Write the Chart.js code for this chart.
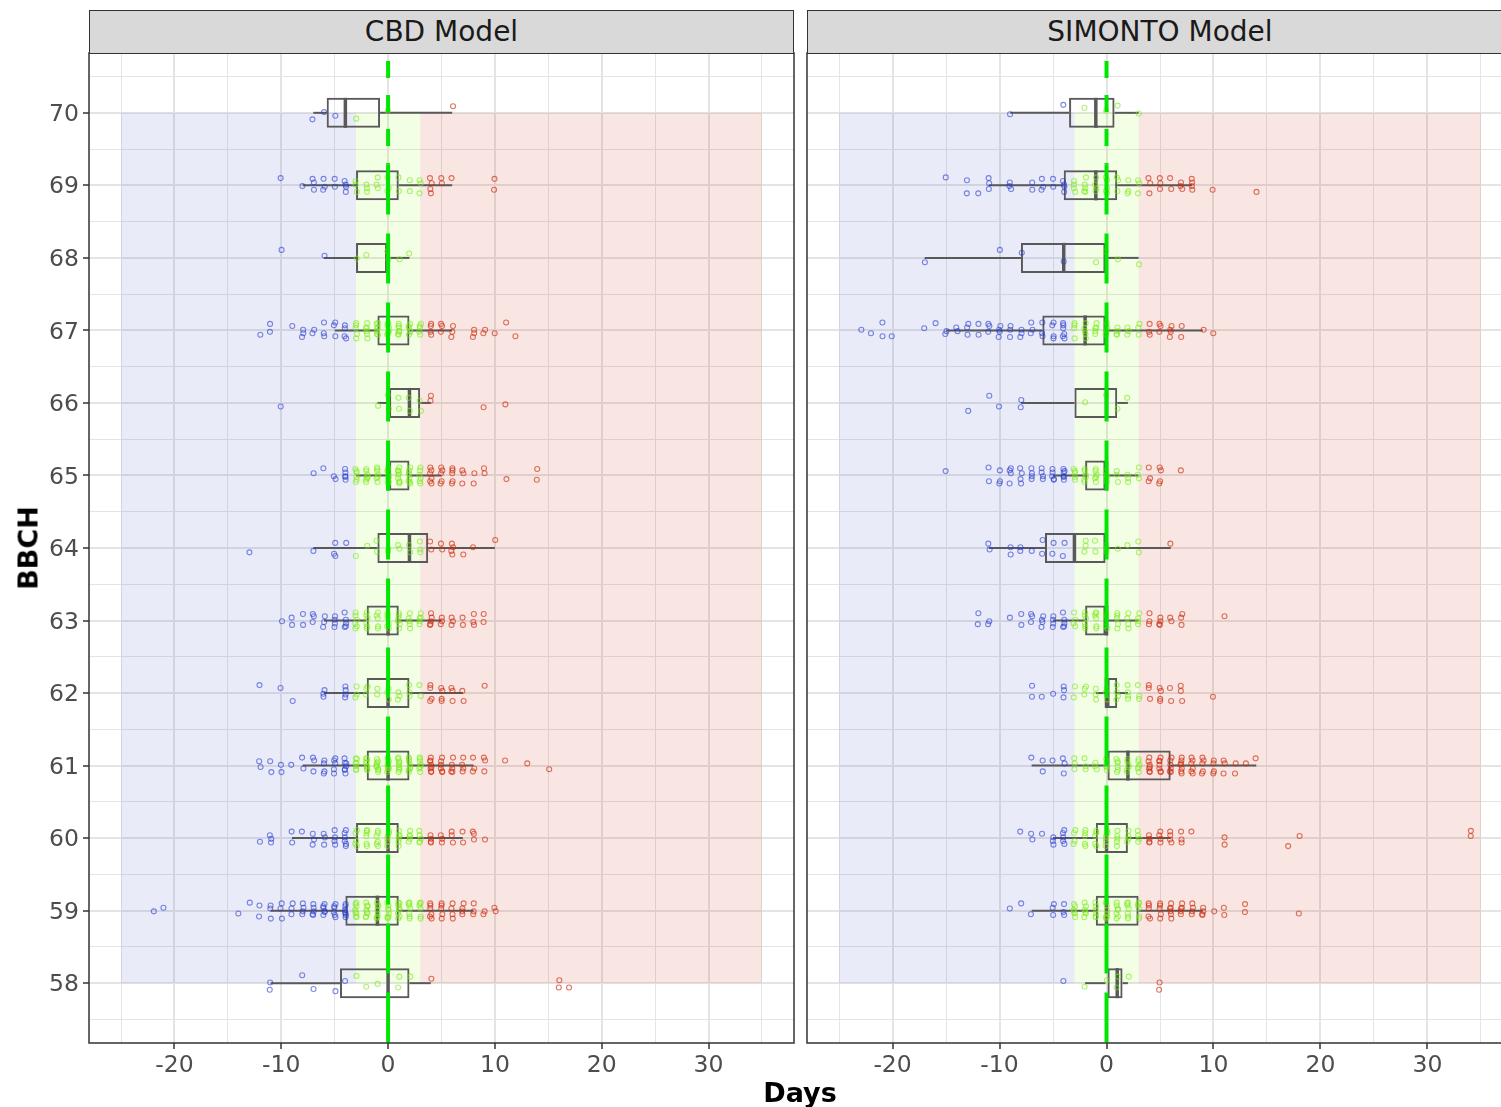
<!DOCTYPE html>
<html>
<head>
<meta charset="utf-8">
<title>BBCH timing: CBD vs SIMONTO</title>
<script src="https://cdn.jsdelivr.net/npm/chart.js@4.4.0/dist/chart.umd.min.js"></script>
<style>
  html, body { margin: 0; padding: 0; width: 1501px; height: 1107px; overflow: hidden; background: #fff; }
  body { position: relative; font-family: "DejaVu Sans", sans-serif; }
  .wrap { position: absolute; top: 0; height: 1107px; }
  #wrapL { left: 0; width: 800px; }
  #wrapR { left: 800px; width: 720px; }
  .strip { position: absolute; top: 10px; height: 44px; box-sizing: border-box; background: #d9d9d9;
           border: 1.5px solid #333; color: #1a1a1a; font-size: 28px; line-height: 41px; text-align: center; }
  .title { position: absolute; font-weight: bold; font-size: 27px; color: #000; white-space: nowrap;
           transform: translate(-50%, -50%); }
  #ytitle { left: 28px; top: 548px; transform: translate(-50%, -50%) rotate(-90deg); }
  #xtitle { left: 800px; top: 1092px; }
</style>
</head>
<body>
<div id="wrapL" class="wrap"><canvas id="cbdChart" width="800" height="1107"></canvas></div>
<div id="wrapR" class="wrap"><canvas id="simChart" width="720" height="1107"></canvas></div>
<div class="strip" style="left:89px;width:705px;">CBD Model</div>
<div class="strip" style="left:807px;width:706px;">SIMONTO Model</div>
<div id="ytitle" class="title">BBCH</div>
<div id="xtitle" class="title">Days</div>

<script>
// BBCH growth stages (rows, bottom to top)
const bbch = [58, 59, 60, 61, 62, 63, 64, 65, 66, 67, 68, 69, 70];

// Box statistics per stage: lower whisker, Q1, median, Q3, upper whisker (days)
const cbdLow    = [-11, -11, -9, -8, -6, -6, -7, -3, -1, -5, -6, -8, -7];
const cbdQ1     = [-4.5, -4, -3, -2, -2, -2, -1, 0, 0, -1, -3, -3, -5.75];
const cbdMedian = [0, -1, 0, 0, 0, 0, 2, 0, 2, 0, 0, 0, -4];
const cbdQ3     = [2, 1, 1, 2, 2, 1, 3.75, 2, 3, 2, 0, 1, -0.75];
const cbdHigh   = [4, 8, 7, 8, 7, 5, 10, 5, 4, 6, 2, 6, 6];

const simLow    = [-2, -7, -5, -7, -1, -5, -11, -5, -8, -15, -17, -11, -9];
const simQ1     = [0, -1, -1, 0, 0, -2, -5.75, -2, -3, -6, -8, -4, -3.5];
const simMedian = [1, 0, 0, 2, 0, 0, -3, 0, 0, -2, -4, -1, -1];
const simQ3     = [1.5, 3, 2, 6, 1, 0, 0, 0, 1, 0, 0, 1, 0.75];
const simHigh   = [2, 9, 6, 14, 2, 3, 6, 3, 2, 9, 3, 8, 3];

// Observed deviations per stage as [day, number of observations]
const cbdDays = [
  [[-11,2],[-8,1],[-7,1],[-5,1],[-4,1],[-3,1],[-2,1],[-1,1],[1,2],[2,1],[4,1],[16,2],[17,1]],
  [[-22,1],[-21,1],[-14,1],[-13,1],[-12,2],[-11,3],[-10,3],[-9,3],[-8,4],[-7,5],[-6,6],[-5,6],[-4,7],[-3,8],[-2,8],[-1,8],[0,8],[1,8],[2,7],[3,6],[4,6],[5,5],[6,4],[7,4],[8,3],[9,2],[10,2]],
  [[-12,1],[-11,3],[-9,2],[-8,1],[-7,3],[-6,3],[-5,4],[-4,6],[-3,5],[-2,6],[-1,6],[0,6],[1,6],[2,5],[3,5],[4,4],[5,3],[6,3],[7,2],[8,3],[9,1]],
  [[-12,2],[-11,2],[-10,2],[-9,1],[-8,2],[-7,3],[-6,4],[-5,5],[-4,7],[-3,7],[-2,8],[-1,9],[0,10],[1,9],[2,8],[3,7],[4,8],[5,6],[6,5],[7,4],[8,3],[9,3],[11,1],[13,1],[15,1]],
  [[-12,1],[-10,1],[-9,1],[-6,3],[-4,4],[-3,3],[-2,3],[-1,2],[0,3],[1,3],[2,3],[3,2],[4,4],[5,4],[6,3],[7,2],[9,1]],
  [[-10,1],[-9,2],[-8,2],[-7,3],[-6,3],[-5,4],[-4,5],[-3,6],[-2,6],[-1,5],[0,6],[1,6],[2,5],[3,5],[4,5],[5,3],[6,3],[7,2],[8,3],[9,2]],
  [[-13,1],[-7,1],[-5,3],[-4,1],[-3,1],[-2,1],[-1,2],[0,2],[1,2],[2,2],[3,3],[4,2],[5,2],[6,4],[7,1],[8,1],[10,1]],
  [[-7,1],[-6,1],[-5,2],[-4,5],[-3,6],[-2,7],[-1,7],[0,9],[1,9],[2,8],[3,6],[4,6],[5,5],[6,5],[7,3],[8,2],[9,2],[11,1],[14,2]],
  [[-10,1],[-1,1],[0,2],[1,2],[2,2],[3,2],[4,2],[9,1],[11,1]],
  [[-12,1],[-11,2],[-9,1],[-8,3],[-7,2],[-6,3],[-5,3],[-4,4],[-3,5],[-2,6],[-1,7],[0,8],[1,7],[2,6],[3,5],[4,4],[5,3],[6,3],[8,3],[9,2],[10,1],[11,1],[12,1]],
  [[-10,1],[-6,1],[-3,1],[-2,1],[0,2],[1,1],[2,1]],
  [[-10,1],[-8,1],[-7,3],[-6,3],[-5,2],[-4,4],[-3,3],[-2,3],[-1,3],[0,3],[1,2],[2,2],[3,3],[4,4],[5,2],[6,1],[10,2]],
  [[-7,1],[-6,1],[-5,1],[-3,1],[0,1],[6,1]]
];

const simDays = [
  [[-4,1],[-2,1],[0,1],[1,2],[2,1],[5,2]],
  [[-9,1],[-8,1],[-7,1],[-5,3],[-4,3],[-3,6],[-2,6],[-1,6],[0,7],[1,7],[2,7],[3,6],[4,5],[5,5],[6,6],[7,5],[8,4],[9,4],[10,1],[11,2],[13,2],[18,1]],
  [[-8,1],[-7,2],[-6,1],[-5,3],[-4,5],[-3,4],[-2,5],[-1,5],[0,6],[1,5],[2,4],[3,4],[4,4],[5,4],[6,4],[7,3],[8,1],[11,2],[17,1],[18,1],[34,2]],
  [[-7,1],[-6,2],[-5,1],[-4,3],[-3,3],[-2,3],[-1,3],[0,5],[1,6],[2,6],[3,6],[4,7],[5,7],[6,6],[7,7],[8,6],[9,5],[10,4],[11,3],[12,2],[13,1],[14,1]],
  [[-7,2],[-6,1],[-5,1],[-4,3],[-3,2],[-2,3],[-1,3],[0,3],[1,4],[2,4],[3,3],[4,3],[5,4],[6,2],[7,3],[10,1]],
  [[-12,2],[-11,2],[-9,1],[-8,2],[-7,3],[-6,4],[-5,4],[-4,5],[-3,4],[-2,6],[-1,6],[0,5],[1,5],[2,4],[3,4],[4,3],[5,4],[6,2],[7,3],[11,1]],
  [[-11,2],[-9,2],[-8,2],[-7,1],[-6,2],[-5,2],[-4,2],[-2,3],[-1,2],[0,3],[1,1],[2,1],[3,2],[6,1]],
  [[-15,1],[-11,2],[-10,3],[-9,4],[-8,4],[-7,4],[-6,4],[-5,5],[-4,6],[-3,5],[-2,6],[-1,6],[0,5],[1,3],[2,3],[3,3],[4,3],[5,4],[7,1]],
  [[-13,1],[-11,1],[-10,1],[-8,2],[-2,1],[0,1],[1,1],[2,1]],
  [[-23,1],[-22,1],[-21,2],[-20,1],[-17,1],[-16,1],[-15,2],[-14,2],[-13,3],[-12,2],[-11,3],[-10,4],[-9,3],[-8,3],[-7,3],[-6,3],[-5,4],[-4,6],[-3,4],[-2,5],[-1,5],[0,5],[1,4],[2,3],[3,3],[4,3],[5,3],[6,4],[7,2],[9,1],[10,1]],
  [[-17,1],[-10,1],[-8,1],[-4,1],[-1,1],[0,1],[1,1],[3,1]],
  [[-15,1],[-13,2],[-12,1],[-11,3],[-9,3],[-7,2],[-6,3],[-5,2],[-4,4],[-3,4],[-2,5],[-1,4],[0,5],[1,3],[2,3],[3,3],[4,3],[5,3],[6,2],[7,3],[8,4],[10,1],[14,1]],
  [[-9,1],[-4,1],[-2,1],[0,1],[1,1],[3,1]]
];

// Timing classes: early (< -3), on time (-3..3), late (> 3)
const zoneLimits = [-25, -3, 3, 35];
const zoneStages = [58, 70];
const referenceDay = 0;

// ---- drawing helpers -------------------------------------------------------
const zoneFills = ['rgba(60,75,200,0.11)', 'rgba(127,255,0,0.10)', 'rgba(205,60,30,0.13)'];
const pointColors = ['rgba(40,60,205,0.6)', 'rgba(120,235,20,0.6)', 'rgba(205,45,15,0.65)'];
const boxColor = '#595959';
const Y_MIN = 57.175, Y_MAX = 70.825;

// fixed spread pattern so stacked observations on the same day stay visible
const spreadY = [0.04, -0.06, 0.09, -0.02, 0.06, -0.09, 0.01, -0.04, 0.11, -0.08, 0.07, -0.11, 0.03, 0.10, -0.05, -0.01];
const spreadX = [0.03, -0.06, 0.08, -0.02, 0.05, -0.08, 0.0, 0.06, -0.04, 0.02, -0.07, 0.07, -0.03, 0.04, -0.05, 0.01];

function splitPoints(days) {
  const groups = [[], [], []];
  days.forEach((row, r) => {
    row.forEach(([d, n]) => {
      const cls = d < zoneLimits[1] ? 0 : (d > zoneLimits[2] ? 2 : 1);
      for (let k = 0; k < n; k++) {
        const iy = (k + r * 5 + d + 64) % spreadY.length;
        const ix = (k * 3 + r + d + 64) % spreadX.length;
        groups[cls].push({ x: d + spreadX[ix], y: bbch[r] + spreadY[iy] });
      }
    });
  });
  return groups;
}

const panelPlugin = {
  id: 'panelDecor',
  beforeDatasetsDraw(chart) {
    const { ctx, chartArea: a, scales: { x, y } } = chart;
    ctx.save();
    ctx.beginPath();
    ctx.rect(a.left, a.top, a.right - a.left, a.bottom - a.top);
    ctx.clip();
    const top = y.getPixelForValue(zoneStages[1]);
    const bottom = y.getPixelForValue(zoneStages[0]);
    for (let i = 0; i < zoneFills.length; i++) {
      const l = x.getPixelForValue(zoneLimits[i]);
      const r = x.getPixelForValue(zoneLimits[i + 1]);
      ctx.fillStyle = zoneFills[i];
      ctx.fillRect(l, top, r - l, bottom - top);
    }
    ctx.restore();
  },
  afterDraw(chart) {
    const { ctx, chartArea: a } = chart;
    ctx.save();
    ctx.strokeStyle = '#333333';
    ctx.lineWidth = 1.5;
    ctx.strokeRect(a.left, a.top, a.right - a.left, a.bottom - a.top);
    ctx.restore();
  }
};

function makePanel(canvasId, low, q1, median, q3, high, days, showY, padRight) {
  const pts = splitPoints(days);
  const boxes = bbch.map((b, i) => ({ x: [q1[i], q3[i]], y: b }));
  const lowerWhisker = bbch.map((b, i) => ({ x: [low[i], q1[i]], y: b }));
  const upperWhisker = bbch.map((b, i) => ({ x: [q3[i], high[i]], y: b }));
  const medians = bbch.map((b, i) => ({ x: median[i], y: b }));
  const splitStage = 69.287;

  const barCommon = { type: 'bar', indexAxis: 'y', grouped: false, inflateAmount: 0, borderSkipped: false };
  const datasets = [
    { type: 'line', data: [{ x: referenceDay, y: Y_MAX }, { x: referenceDay, y: splitStage }],
      borderColor: '#00e600', borderWidth: 4, borderDash: [17, 17], borderDashOffset: 26,
      pointRadius: 0, order: 0 },
    { type: 'line', data: [{ x: referenceDay, y: splitStage }, { x: referenceDay, y: Y_MIN }],
      borderColor: '#00e600', borderWidth: 4, borderDash: [50, 19],
      pointRadius: 0, order: 0 },
    ...pts.map((p, i) => ({ type: 'scatter', data: p, pointRadius: 2.5, pointBorderWidth: 1.1,
      pointBackgroundColor: 'rgba(0,0,0,0)', pointBorderColor: pointColors[i], order: 1 })),
    { type: 'scatter', data: medians, pointStyle: 'line', rotation: 90, pointRadius: 15,
      pointBorderWidth: 3.5, pointBorderColor: boxColor, order: 2 },
    { ...barCommon, data: boxes, barThickness: 30, backgroundColor: 'rgba(0,0,0,0)',
      borderColor: boxColor, borderWidth: 2, order: 3 },
    { ...barCommon, data: lowerWhisker, barThickness: 2, backgroundColor: boxColor, borderWidth: 0, order: 4 },
    { ...barCommon, data: upperWhisker, barThickness: 2, backgroundColor: boxColor, borderWidth: 0, order: 4 }
  ];

  const gridColor = '#e4e4e4';
  return new Chart(document.getElementById(canvasId), {
    type: 'scatter',
    data: { datasets },
    plugins: [panelPlugin],
    options: {
      responsive: false,
      animation: false,
      events: [],
      layout: { autoPadding: false, padding: { top: 53, right: padRight, bottom: 0, left: 0 } },
      plugins: { legend: { display: false }, tooltip: { enabled: false } },
      scales: {
        x: {
          type: 'linear', min: -28, max: 38, offset: false,
          border: { display: false },
          grid: {
            offset: false,
            color: gridColor,
            lineWidth: c => (c.tick && c.tick.value % 10 === 0 ? 2 : 1),
            tickLength: 6,
            tickWidth: 1.5,
            tickColor: c => (c.tick && c.tick.value % 10 === 0 ? '#333333' : 'rgba(0,0,0,0)')
          },
          ticks: {
            stepSize: 5, autoSkip: false, maxRotation: 0, includeBounds: false, padding: 3,
            color: '#4d4d4d', font: { family: 'DejaVu Sans', size: 23.5 },
            callback: v => (v % 10 === 0 ? String(v) : '')
          },
          afterFit: s => { s.height = 64; }
        },
        y: {
          type: 'linear', min: Y_MIN, max: Y_MAX, offset: false,
          border: { display: false },
          grid: {
            offset: false,
            color: gridColor,
            lineWidth: c => (c.tick && Number.isInteger(c.tick.value) ? 2 : 1),
            drawTicks: showY,
            tickLength: showY ? 6 : 0,
            tickWidth: 1.5,
            tickColor: c => (c.tick && Number.isInteger(c.tick.value) ? '#333333' : 'rgba(0,0,0,0)')
          },
          ticks: {
            display: showY, stepSize: 0.5, autoSkip: false, includeBounds: false, padding: 4,
            labelOffset: 2,
            color: '#4d4d4d', font: { family: 'DejaVu Sans', size: 23.5 },
            callback: v => (Number.isInteger(v) ? String(v) : '')
          },
          afterFit: s => { s.width = showY ? 89 : 7; }
        }
      }
    }
  });
}

makePanel('cbdChart', cbdLow, cbdQ1, cbdMedian, cbdQ3, cbdHigh, cbdDays, true, 6);
makePanel('simChart', simLow, simQ1, simMedian, simQ3, simHigh, simDays, false, 7);
</script>
</body>
</html>
